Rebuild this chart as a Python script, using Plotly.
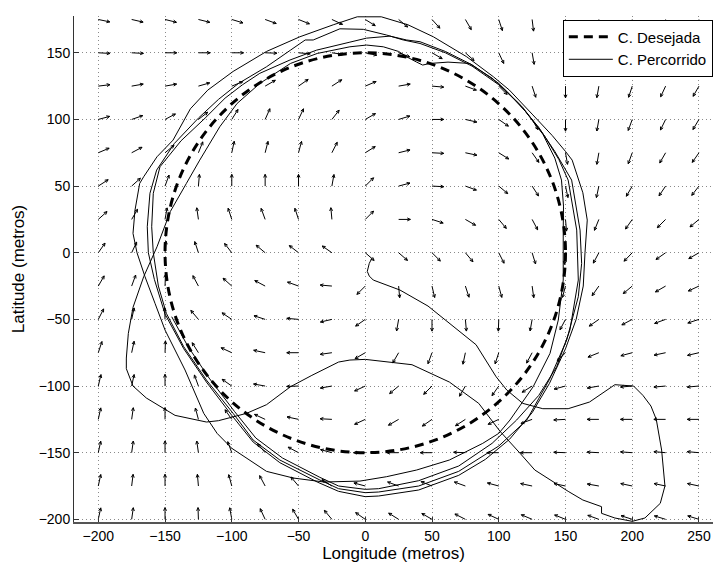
import math
import plotly.graph_objects as go

# ---------------- data ----------------
x_ticks = [-200, -150, -100, -50, 0, 50, 100, 150, 200, 250]
y_ticks = [-200, -150, -100, -50, 0, 50, 100, 150]

# desired circular path (radius, centre)
circle_radius = 150
circle_center = (0, 0)

# vector-field grid
field_x = [-200, -175, -150, -125, -100, -75, -50, -25, 0, 25, 50, 75, 100, 125, 150, 175, 200, 225, 250]
field_y = [175, 150, 125, 100, 75, 50, 25, 0, -25, -50, -75, -100, -125, -150, -175, -200]
# arrow direction (degrees, counter-clockwise from +x), one row per field_y
field_angle = [
    [-12, -13, -14, -14, -17, -20, -22, -25, -32, -40, -48, -60, -72, -83, -92, -100, -106, -112, -116],
    [-3, -3, 0, 0, 0, -2, -5, -8, -12, -20, -30, -42, -65, -80, -92, -100, -107, -113, -118],
    [7, 10, 10, 16, 22, 30, 35, 33, 23, 10, -5, -20, -45, -72, -90, -100, -108, -115, -120],
    [15, 19, 28, 38, 58, 66, 65, 52, 30, 17, 0, -13, -35, -60, -90, -100, -110, -116, -121],
    [23, 28, 40, 68, 78, 76, 75, 63, 32, 14, -3, -12, -32, -55, -80, -100, -110, -120, -125],
    [33, 42, 70, 85, 90, 90, 90, 80, 45, 15, -3, -20, -40, -57, -78, -102, -120, -124, -128],
    [42, 60, 80, 98, 108, 110, 108, 95, 45, 0, -18, -30, -50, -62, -85, -112, -125, -135, -140],
    [55, 65, 85, 108, 128, 140, 142, 145, -41, -41, -45, -50, -63, -73, -95, -118, -134, -145, -150],
    [60, 70, 88, 118, 138, 152, 160, 175, -135, -85, -77, -72, -75, -82, -105, -125, -140, -150, -155],
    [63, 78, 92, 130, 146, 162, 175, -167, -145, -100, -90, -85, -92, -100, -118, -145, -152, -160, -162],
    [72, 78, 88, 122, 155, 168, 180, -172, -150, -120, -110, -102, -108, -118, -135, -158, -165, -168, -167],
    [77, 78, 90, 110, 145, 170, -178, -170, -155, -140, -135, -120, -125, -148, -165, -170, -175, -175, -175],
    [78, 82, 90, 105, 125, 155, 168, 177, -155, -150, -145, -147, -155, -160, -177, 180, 180, 180, 180],
    [78, 82, 90, 98, 110, 130, 152, 165, 180, 180, 180, 178, 180, 180, 178, 177, 176, 175, 175],
    [78, 83, 90, 95, 105, 118, 130, 147, 165, 160, 158, 160, 165, 168, 168, 170, 168, 168, 168],
    [78, 82, 90, 92, 100, 115, 120, 130, 145, 148, 150, 153, 155, 157, 158, 160, 162, 163, 163],
]
arrow_len = 8.8   # data units
head_len = 2.6    # data units
head_half_angle = 25  # degrees

# travelled path (longitude, latitude)
path_x = [
    5, 3, 1.5, 3, 6, 26, 47, 63, 83, 98, 106, 118, 133, 152, 168, 187, 201, 208, 214, 218, 222, 224.5, 221, 209.5, 200,
    187, 177, 177, 163, 152, 127, 116, 101, 85, 63, 35, 0, -11.5, -20, -40, -56, -74, -89, -110, -119, -142.5, -164,
    -174, -179, -179, -177.5, -174, -166, -156, -146, -134, -124, -109, -96, -79,
    # loop 1
    -56, -36, -11.5, 1, 13.5, 25, 31, 38.5, 43, 48.5, 62, 78, 95, 106, 120, 133, 142, 147, 148.5, 148.3, 148.3, 144.6,
    138.4, 125.8, 108.4, 100, 88, 63, 38.5, 16, -4, -31, -54, -74, -100,
    -111, -121, -135, -150, -157.5, -165, -171, -174, -172.5, -169, -166, -156, -144, -131, -118, -99, -74, -49, -24, -6,
    12, 32, 51, 76, 96, 108, 125, 140, 150, 155, 163, 166.3, 164.6, 163.3, 158, 150, 138, 125, 108, 90, 70, 40, 10, 0,
    -20, -36, -64, -84, -100, -119, -136, -150, -158, -162.5, -163.3, -161.3, -156.3, -143, -125, -110, -95, -74,
    -56, -45, -39, -19, -1.5, 16, 28.5, 41, 60, 80, 100, 115, 130, 142, 154.6, 160.9, 162.1, 159.6, 150.9, 138, 121,
    100, 70, 40, 10, 0, -20, -34, -64, -84, -99, -119, -136, -149, -155, -158.8, -160, -158.8, -153.8, -138, -120, -105,
    -92, -79,
    -56.4, -36.4, -11.5, 1, 18.5, 31, 41, 60, 80, 100, 118, 134, 145, 152, 158.4, 159.6, 153.3, 143.4, 130, 113.4, 95,
    70, 40, 10, 0, -20, -34, -62, -82, -98, -117, -133, -145,
]
path_y = [
    -4, -8, -14, -17.5, -20.5, -28, -40, -53, -69, -93, -103, -113, -117, -117, -112, -99, -100, -107, -115, -125, -148,
    -175, -188, -199, -201.5, -199, -195.5, -190.5, -185.5, -179, -163, -150.5, -134, -113, -97, -84, -80, -80.5, -82,
    -92, -100.5, -114, -120.5, -126, -127, -122, -109, -100, -87, -79, -60.5, -41, -18, 4.5, 31, 52, 69.5, 94.5, 112,
    127,
    142, 149.5, 154.5, 155.8, 154.5, 151, 147, 143, 140.8, 142, 143, 142, 131, 121, 106, 89, 71, 54.5, 35, 17, -20.5,
    -50.5, -75.5, -100.5, -125.5, -135.5, -143, -155.5, -163, -168, -171.3, -172, -169, -164, -146.7,
    -135.5, -120.5, -88, -58, -38, -18, 0, 14.5, 32, 52, 57, 72, 84.5, 108, 122, 136, 151, 162, 171, 177,
    177, 171, 162, 147, 132, 122, 104, 88, 76, 69.5, 45, 24.5, 0, -25, -50, -72, -98, -120, -140, -155, -167, -178,
    -182.5, -183, -179, -172, -157.5, -142, -122, -97, -72, -46, -20, 0, 19.5, 44.6, 62, 82, 101, 115, 127, 139.5,
    152, 159.6, 159.6, 168, 167.6, 163.3, 159.6, 157, 150, 140, 126, 112, 94, 76, 54.5, 17, -8, -33, -65.5, -95, -125.5,
    -145, -164, -175, -179.5, -180, -177, -170.5, -155.5, -140.5, -120.5, -95.5, -70.5, -45.5, -25, 0, 19.5, 44.6, 64.5,
    84, 101, 116, 126, 134.6,
    144.6, 152, 158, 161, 162.5, 159.6, 158.3, 151, 141, 127, 109, 88, 70, 54.5, 17, -20.5, -58, -85.5, -107, -125.5,
    -143, -160, -171, -177, -177.5, -175, -168.5, -154, -139, -119, -94, -70, -48,
]

# ---------------- figure ----------------
FONT = "Liberation Sans, Arial, Helvetica, sans-serif"
fig = go.Figure()

# quiver field: shaft + two barbs at the tip
qx, qy = [], []
for j, gy in enumerate(field_y):
    for i, gx in enumerate(field_x):
        a = field_angle[j][i]
        c, s = math.cos(math.radians(a)), math.sin(math.radians(a))
        tx, ty = gx + arrow_len * c, gy + arrow_len * s
        qx += [gx, tx, None]
        qy += [gy, ty, None]
        for sgn in (1, -1):
            b = math.radians(a + 180 + sgn * head_half_angle)
            qx += [tx, tx + head_len * math.cos(b), None]
            qy += [ty, ty + head_len * math.sin(b), None]

fig.add_trace(go.Scatter(x=qx, y=qy, mode="lines",
                         line=dict(color="black", width=1), showlegend=False, hoverinfo="skip"))

# legend entry for the desired circle (drawn as a shape below)
fig.add_trace(go.Scatter(x=[None], y=[None], mode="lines", name="C. Desejada",
                         line=dict(color="black", width=3, dash="9px,6px")))
# travelled path
fig.add_trace(go.Scatter(x=path_x, y=path_y, mode="lines", name="C. Percorrido",
                         line=dict(color="black", width=1)))

cx, cy = circle_center
fig.add_shape(type="circle", xref="x", yref="y",
              x0=cx - circle_radius, x1=cx + circle_radius,
              y0=cy - circle_radius, y1=cy + circle_radius,
              line=dict(color="black", width=3, dash="9px,6px"), layer="above")

axis_common = dict(
    showgrid=True, gridcolor="#8a8a8a", gridwidth=1, griddash="1px,3px",
    zeroline=False, showline=True, ticks="inside", ticklen=5, tickcolor="#333",
    tickfont=dict(family=FONT, size=14, color="black"),
)
fig.update_xaxes(range=[-218.2, 260.5], tickvals=x_ticks, linecolor="#555", linewidth=1.5,
                 title=dict(text="Longitude (metros)", font=dict(family=FONT, size=17, color="black"),
                            standoff=2),
                 **axis_common)
fig.update_yaxes(range=[-202, 177.6], tickvals=y_ticks, linecolor="#333", linewidth=1,
                 title=dict(text="Latitude (metros)", font=dict(family=FONT, size=17, color="black"),
                            standoff=9),
                 **axis_common)

fig.update_layout(
    width=713, height=564,
    margin=dict(l=74, r=0, t=16, b=42, autoexpand=False),
    paper_bgcolor="white", plot_bgcolor="white",
    font=dict(family=FONT, color="black"),
    showlegend=True,
    legend=dict(x=0.765, y=0.993, xanchor="left", yanchor="top",
                bgcolor="white", bordercolor="black", borderwidth=1,
                font=dict(family=FONT, size=15, color="black"),
                tracegroupgap=0, itemwidth=44),
)

fig.write_html(
    "out.html",
    config={"displayModeBar": False},
    post_script="document.body.style.margin='0';document.documentElement.style.overflow='hidden';",
)
